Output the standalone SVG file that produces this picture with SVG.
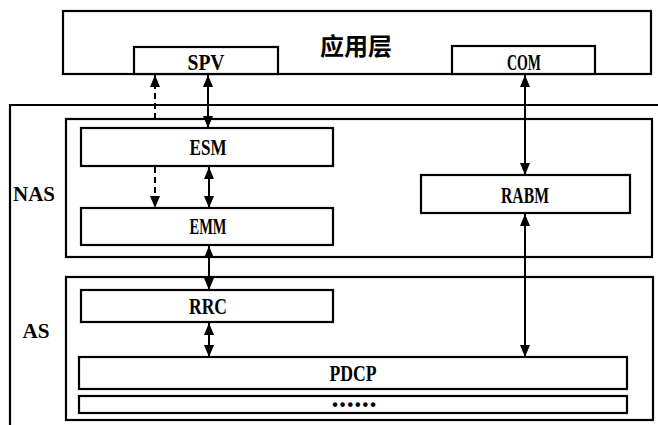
<svg xmlns="http://www.w3.org/2000/svg" width="658" height="425" viewBox="0 0 658 425">
<style>
.box{fill:#fff;stroke:#000;stroke-width:2.2}
.frame{fill:none;stroke:#000;stroke-width:2.2}
.lbl{font-family:"Liberation Serif",serif;font-weight:bold;font-size:23px;text-anchor:middle;fill:#000}
.side{font-family:"Liberation Serif",serif;font-weight:bold;font-size:22px;text-anchor:middle;fill:#000}
.title{font-family:"Noto Sans CJK SC",sans-serif;font-weight:bold;font-size:24px;text-anchor:middle;fill:#000}
.ln{stroke:#000;stroke-width:2;fill:none}
.dash{stroke-dasharray:6,4}
</style>
<defs>
<marker id="ah" markerUnits="userSpaceOnUse" markerWidth="12" markerHeight="10" viewBox="0 0 12 10" refX="12" refY="5" orient="auto-start-reverse">
<path d="M0,0 L12,5 L0,10 z" fill="#000"/>
</marker>
</defs>

<g id="outer">
<path class="frame" d="M10,425 V105 H658"/>
<text class="side" x="34" y="201" textLength="42" lengthAdjust="spacingAndGlyphs">NAS</text>
<text class="side" x="36" y="338" textLength="27" lengthAdjust="spacingAndGlyphs">AS</text>
</g>

<g id="app-layer">
<rect class="box" x="63" y="11" width="588" height="63"/>
<text class="title" x="356" y="55">应用层</text>
</g>
<g id="spv">
<rect class="box" x="134" y="47" width="144" height="27"/>
<text class="lbl" x="206" y="70" textLength="37" lengthAdjust="spacingAndGlyphs">SPV</text>
</g>
<g id="com">
<rect class="box" x="452" y="46" width="143" height="28"/>
<text class="lbl" x="524" y="70" textLength="34" lengthAdjust="spacingAndGlyphs">COM</text>
</g>

<g id="nas">
<rect class="box" x="66" y="119" width="586" height="138"/>
</g>
<g id="esm">
<rect class="box" x="81" y="128" width="252" height="38"/>
<text class="lbl" x="208" y="155" textLength="37" lengthAdjust="spacingAndGlyphs">ESM</text>
</g>
<g id="emm">
<rect class="box" x="81" y="208" width="252" height="37"/>
<text class="lbl" x="208" y="234" textLength="37" lengthAdjust="spacingAndGlyphs">EMM</text>
</g>
<g id="rabm">
<rect class="box" x="421" y="175" width="209" height="38"/>
<text class="lbl" x="525" y="203" textLength="48" lengthAdjust="spacingAndGlyphs">RABM</text>
</g>

<g id="as">
<rect class="box" x="66" y="277" width="587" height="143"/>
</g>
<g id="rrc">
<rect class="box" x="81" y="290" width="252" height="32"/>
<text class="lbl" x="208" y="314" textLength="38" lengthAdjust="spacingAndGlyphs">RRC</text>
</g>
<g id="pdcp">
<rect class="box" x="79" y="357" width="548" height="32"/>
<text class="lbl" x="353" y="381" textLength="47" lengthAdjust="spacingAndGlyphs">PDCP</text>
</g>
<g id="lower">
<rect class="box" x="79" y="396" width="548" height="17"/>
<text x="355" y="410" style="font-family:'Liberation Sans',sans-serif;font-weight:bold;font-size:16px;text-anchor:middle;letter-spacing:2px">••••••</text>
</g>

<g id="connectors">
<line class="ln dash" x1="155" y1="119" x2="155" y2="75" marker-end="url(#ah)"/>
<line class="ln" x1="208" y1="128" x2="208" y2="75" marker-start="url(#ah)" marker-end="url(#ah)"/>
<line class="ln dash" x1="155" y1="167" x2="155" y2="208" marker-end="url(#ah)"/>
<line class="ln" x1="209" y1="167" x2="209" y2="208" marker-start="url(#ah)" marker-end="url(#ah)"/>
<line class="ln" x1="209" y1="246" x2="209" y2="290" marker-start="url(#ah)" marker-end="url(#ah)"/>
<line class="ln" x1="209" y1="323" x2="209" y2="357" marker-start="url(#ah)" marker-end="url(#ah)"/>
<line class="ln" x1="525" y1="75" x2="525" y2="175" marker-start="url(#ah)" marker-end="url(#ah)"/>
<line class="ln" x1="525" y1="214" x2="525" y2="357" marker-start="url(#ah)" marker-end="url(#ah)"/>
</g>
</svg>
